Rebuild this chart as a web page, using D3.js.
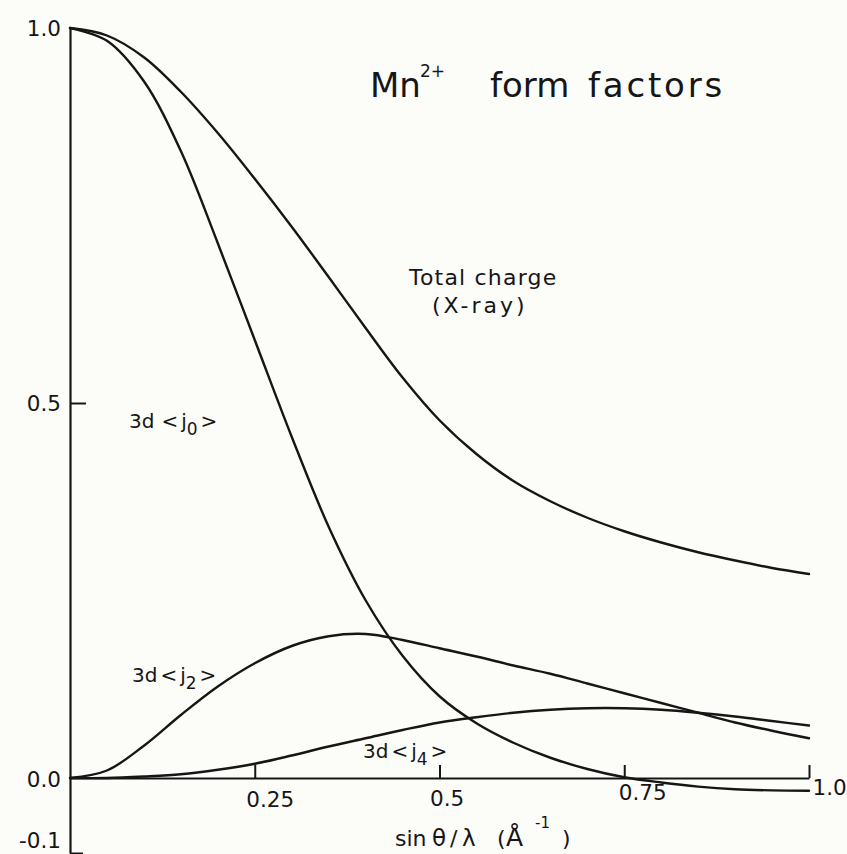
<!DOCTYPE html>
<html><head><meta charset="utf-8">
<script src="https://cdn.jsdelivr.net/npm/d3@7"></script>
<style>
html,body{margin:0;padding:0;background:#fcfcf9;}
svg{display:block;}
text{font-family:"DejaVu Sans",sans-serif;fill:#161616;}
</style></head><body>
<svg id="chart" width="847" height="854"></svg>
<script>
// sin(theta)/lambda grid (1/Å)
const sValues = [0,0.05,0.10,0.15,0.20,0.25,0.30,0.35,0.40,0.45,0.50,0.55,0.60,0.65,0.70,0.75,0.80,0.85,0.90,0.95,1.00];
// Total charge (X-ray)
const totalCharge = [1.000,0.990,0.961,0.915,0.860,0.799,0.735,0.668,0.600,0.534,0.477,0.432,0.396,0.369,0.347,0.329,0.314,0.301,0.290,0.280,0.272];
// 3d <j0>
const j0 = [1.000,0.983,0.929,0.836,0.713,0.584,0.455,0.335,0.237,0.163,0.109,0.073,0.047,0.027,0.012,0.001,-0.006,-0.0115,-0.015,-0.0165,-0.017];
// 3d <j2>
const j2 = [0.000,0.010,0.043,0.084,0.122,0.153,0.176,0.189,0.192,0.184,0.173,0.162,0.150,0.139,0.126,0.113,0.100,0.087,0.074,0.063,0.053];
// 3d <j4>
const j4 = [0.000,0.000,0.002,0.005,0.011,0.019,0.030,0.042,0.053,0.064,0.074,0.081,0.087,0.091,0.093,0.093,0.091,0.087,0.082,0.076,0.070];

const xTickValues = [0.25,0.5,0.75,1.0];
const xTickLabels = ["0.25","0.5","0.75","1.0"];
const yTickValues = [1.0,0.5,0.0,-0.1];
const yTickLabels = ["1.0","0.5","0.0","-0.1"];

const svg = d3.select("#chart");
const x = d3.scaleLinear().domain([0,1]).range([70,809]);
const y = d3.scaleLinear().domain([-0.1,1]).range([853,28]);
const ink = "#161616";

// X axis
const xAxis = d3.axisBottom(x).tickValues(xTickValues)
  .tickSizeInner(-13).tickSizeOuter(0).tickPadding(16)
  .tickFormat((d,i)=>xTickLabels[i]);
const gx = svg.append("g").attr("transform",`translate(0,${y(0)})`).call(xAxis);
gx.select(".domain").attr("stroke",ink).attr("stroke-width",2.2);
gx.selectAll(".tick line").attr("stroke",ink).attr("stroke-width",2);
gx.selectAll(".tick text")
  .attr("font-family","DejaVu Sans").attr("font-size",21.5).attr("fill",ink)
  .attr("text-anchor","start")
  .attr("x",(d,i)=>[-9,-10,-6,3][i])
  .attr("y",(d,i)=>[29,28,22,17][i])
  .attr("dy",0);

// Y axis
const yAxis = d3.axisLeft(y).tickValues(yTickValues)
  .tickSize(0).tickPadding(9)
  .tickFormat((d,i)=>yTickLabels[i]);
const gy = svg.append("g").attr("transform",`translate(${x(0)},0)`).call(yAxis);
gy.select(".domain").attr("stroke",ink).attr("stroke-width",2.2);
gy.selectAll(".tick text")
  .attr("font-family","DejaVu Sans").attr("font-size",21.5).attr("fill",ink)
  .attr("dy",(d,i)=>[7,7,8,-6][i]);
gy.selectAll(".tick line")
  .attr("stroke",ink).attr("stroke-width",2)
  .attr("x2",(d,i)=>[0,16,0,13][i]);

// Curves
const line = d3.line().x((d,i)=>x(sValues[i])).y(d=>y(d)).curve(d3.curveCatmullRom.alpha(0.5));
const series = [totalCharge,j0,j2,j4];
svg.append("g").selectAll("path").data(series).join("path")
  .attr("d",line).attr("fill","none").attr("stroke",ink)
  .attr("stroke-width",2.4).attr("stroke-linejoin","round").attr("stroke-linecap","round");

// Title
const title = svg.append("text").attr("x",370).attr("y",97).attr("font-size",34);
title.append("tspan").text("Mn");
title.append("tspan").attr("x",420).attr("y",77).attr("font-size",17).text("2+");
title.append("tspan").attr("x",490).attr("y",97).text("form");
title.append("tspan").attr("x",588).attr("y",97).attr("letter-spacing",2.8).text("factors");

// Curve labels
svg.append("text").attr("x",409).attr("y",285).attr("font-size",22).attr("letter-spacing",1.2).text("Total charge");
svg.append("text").attr("x",432).attr("y",313).attr("font-size",22).attr("letter-spacing",3).text("(X-ray)");

function jLabel(px,py,sub,gap){
  const t = svg.append("text").attr("x",px).attr("y",py).attr("font-size",20);
  t.append("tspan").text("3d");
  t.append("tspan").attr("dx",gap).text("<");
  t.append("tspan").attr("dx",3).text("j");
  t.append("tspan").attr("dy",7).attr("font-size",17).text(sub);
  t.append("tspan").attr("dy",-7).attr("dx",3).text(">");
}
jLabel(129,428,"0",7);
jLabel(132,682,"2",3);
jLabel(363,758,"4",3);

// X axis title
const xt = svg.append("text").attr("y",846).attr("font-size",22);
xt.append("tspan").attr("x",395).text("sin");
xt.append("tspan").attr("x",432).attr("font-size",23).text("θ");
xt.append("tspan").attr("x",450).text("/");
xt.append("tspan").attr("x",462).attr("font-size",23).text("λ");
xt.append("tspan").attr("x",497).text("(");
xt.append("tspan").attr("x",506).attr("font-size",25).text("Å");
xt.append("tspan").attr("x",535).attr("y",828).attr("font-size",15).text("-1");
xt.append("tspan").attr("x",562).attr("y",846).text(")");
</script>
</body></html>
